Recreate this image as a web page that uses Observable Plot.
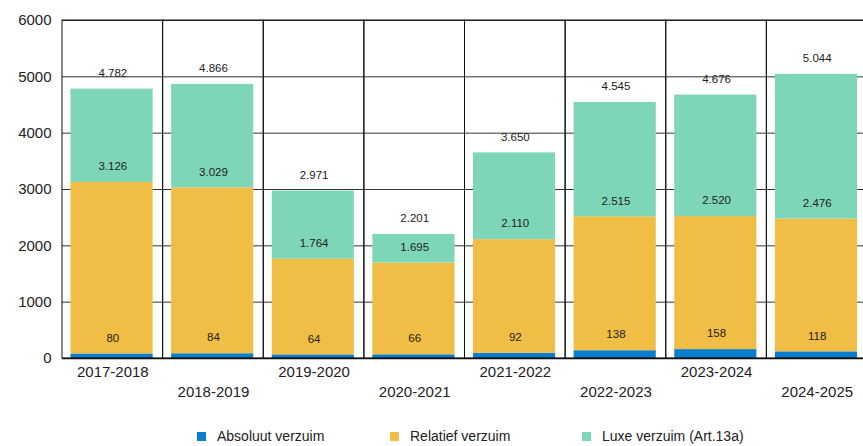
<!DOCTYPE html>
<html>
<head>
<meta charset="utf-8">
<script src="https://cdn.jsdelivr.net/npm/d3@7"></script>
<script src="https://cdn.jsdelivr.net/npm/@observablehq/plot@0.6"></script>
<style>
  html, body { margin: 0; padding: 0; background: #fff; overflow: hidden; }
  body { width: 863px; height: 446px; font-family: "Liberation Sans", Arial, sans-serif; }
  #chart { width: 863px; overflow: hidden; }
  #chart svg { display: block; max-width: none !important; }
  #legend { position: relative; height: 22px; font-size: 14px; color: #222; }
  .item { position: absolute; top: 4px; line-height: 16px; white-space: nowrap; }
  .sw { display: inline-block; width: 9px; height: 9px; margin-right: 11px; vertical-align: 0px; }
</style>
</head>
<body>
<div id="chart"></div>
<div id="legend"></div>
<script>
const categories = ["2017-2018","2018-2019","2019-2020","2020-2021","2021-2022","2022-2023","2023-2024","2024-2025"];
const absoluut = [80, 84, 64, 66, 92, 138, 158, 118];
const relatiefCum = [3126, 3029, 1764, 1695, 2110, 2515, 2520, 2476];
const totaal = [4782, 4866, 2971, 2201, 3650, 4545, 4676, 5044];
const seriesNames = ["Absoluut verzuim", "Relatief verzuim", "Luxe verzuim (Art.13a)"];
const colors = ["#0a7dcc", "#f0bd45", "#7dd6b8"];
const yTicks = [0, 1000, 2000, 3000, 4000, 5000, 6000];
const legendLeft = [197, 390, 582];

const fmt = v => String(v).replace(/\B(?=(\d{3})+(?!\d))/g, ".");

const rows = [];
categories.forEach((c, i) => {
  rows.push({cat: c, series: seriesNames[0], y1: 0, y2: absoluut[i], label: absoluut[i]});
  rows.push({cat: c, series: seriesNames[1], y1: absoluut[i], y2: relatiefCum[i], label: relatiefCum[i]});
  rows.push({cat: c, series: seriesNames[2], y1: relatiefCum[i], y2: totaal[i], label: totaal[i]});
});

const chart = Plot.plot({
  width: 867,
  height: 424,
  marginLeft: 62,
  marginRight: 0,
  marginTop: 20,
  marginBottom: 66,
  style: {fontFamily: "'Liberation Sans', Arial, sans-serif", background: "#fff", maxWidth: "none"},
  x: {domain: categories, padding: 0, round: false, axis: null},
  y: {domain: [0, 6000], axis: null},
  color: {domain: seriesNames, range: colors},
  marks: [
    Plot.ruleY(yTicks, {stroke: "#333", strokeWidth: 1}),
    Plot.barY(rows, {x: "cat", y1: "y1", y2: "y2", fill: "series", insetLeft: 8.5, insetRight: 10}),
    Plot.barY(categories, {x: d => d, y1: 0, y2: 6000, fill: "none", stroke: "#111", strokeWidth: 1}),
    Plot.ruleY([0], {stroke: "#111", strokeWidth: 1.5}),
    Plot.axisY({ticks: yTicks, tickSize: 0, tickPadding: 11, fontSize: 15, label: null, tickFormat: d => String(d), fill: "#222"}),
    Plot.text(rows, {x: "cat", y: "label", text: d => fmt(d.label), dy: -16, fontSize: 11.5, fill: "#222", style: {letterSpacing: "0.5px"}}),
    Plot.text(categories.filter((c, i) => i % 2 === 0), {x: d => d, y: 0, text: d => d, dy: 14, fontSize: 15, fill: "#222"}),
    Plot.text(categories.filter((c, i) => i % 2 === 1), {x: d => d, y: 0, text: d => d, dy: 34, fontSize: 15, fill: "#222"})
  ]
});
document.getElementById("chart").appendChild(chart);

const legend = document.getElementById("legend");
seriesNames.forEach((s, i) => {
  const it = document.createElement("span");
  it.className = "item";
  it.style.left = legendLeft[i] + "px";
  it.innerHTML = `<span class="sw" style="background:${colors[i]}"></span>${s}`;
  legend.appendChild(it);
});
</script>
</body>
</html>
